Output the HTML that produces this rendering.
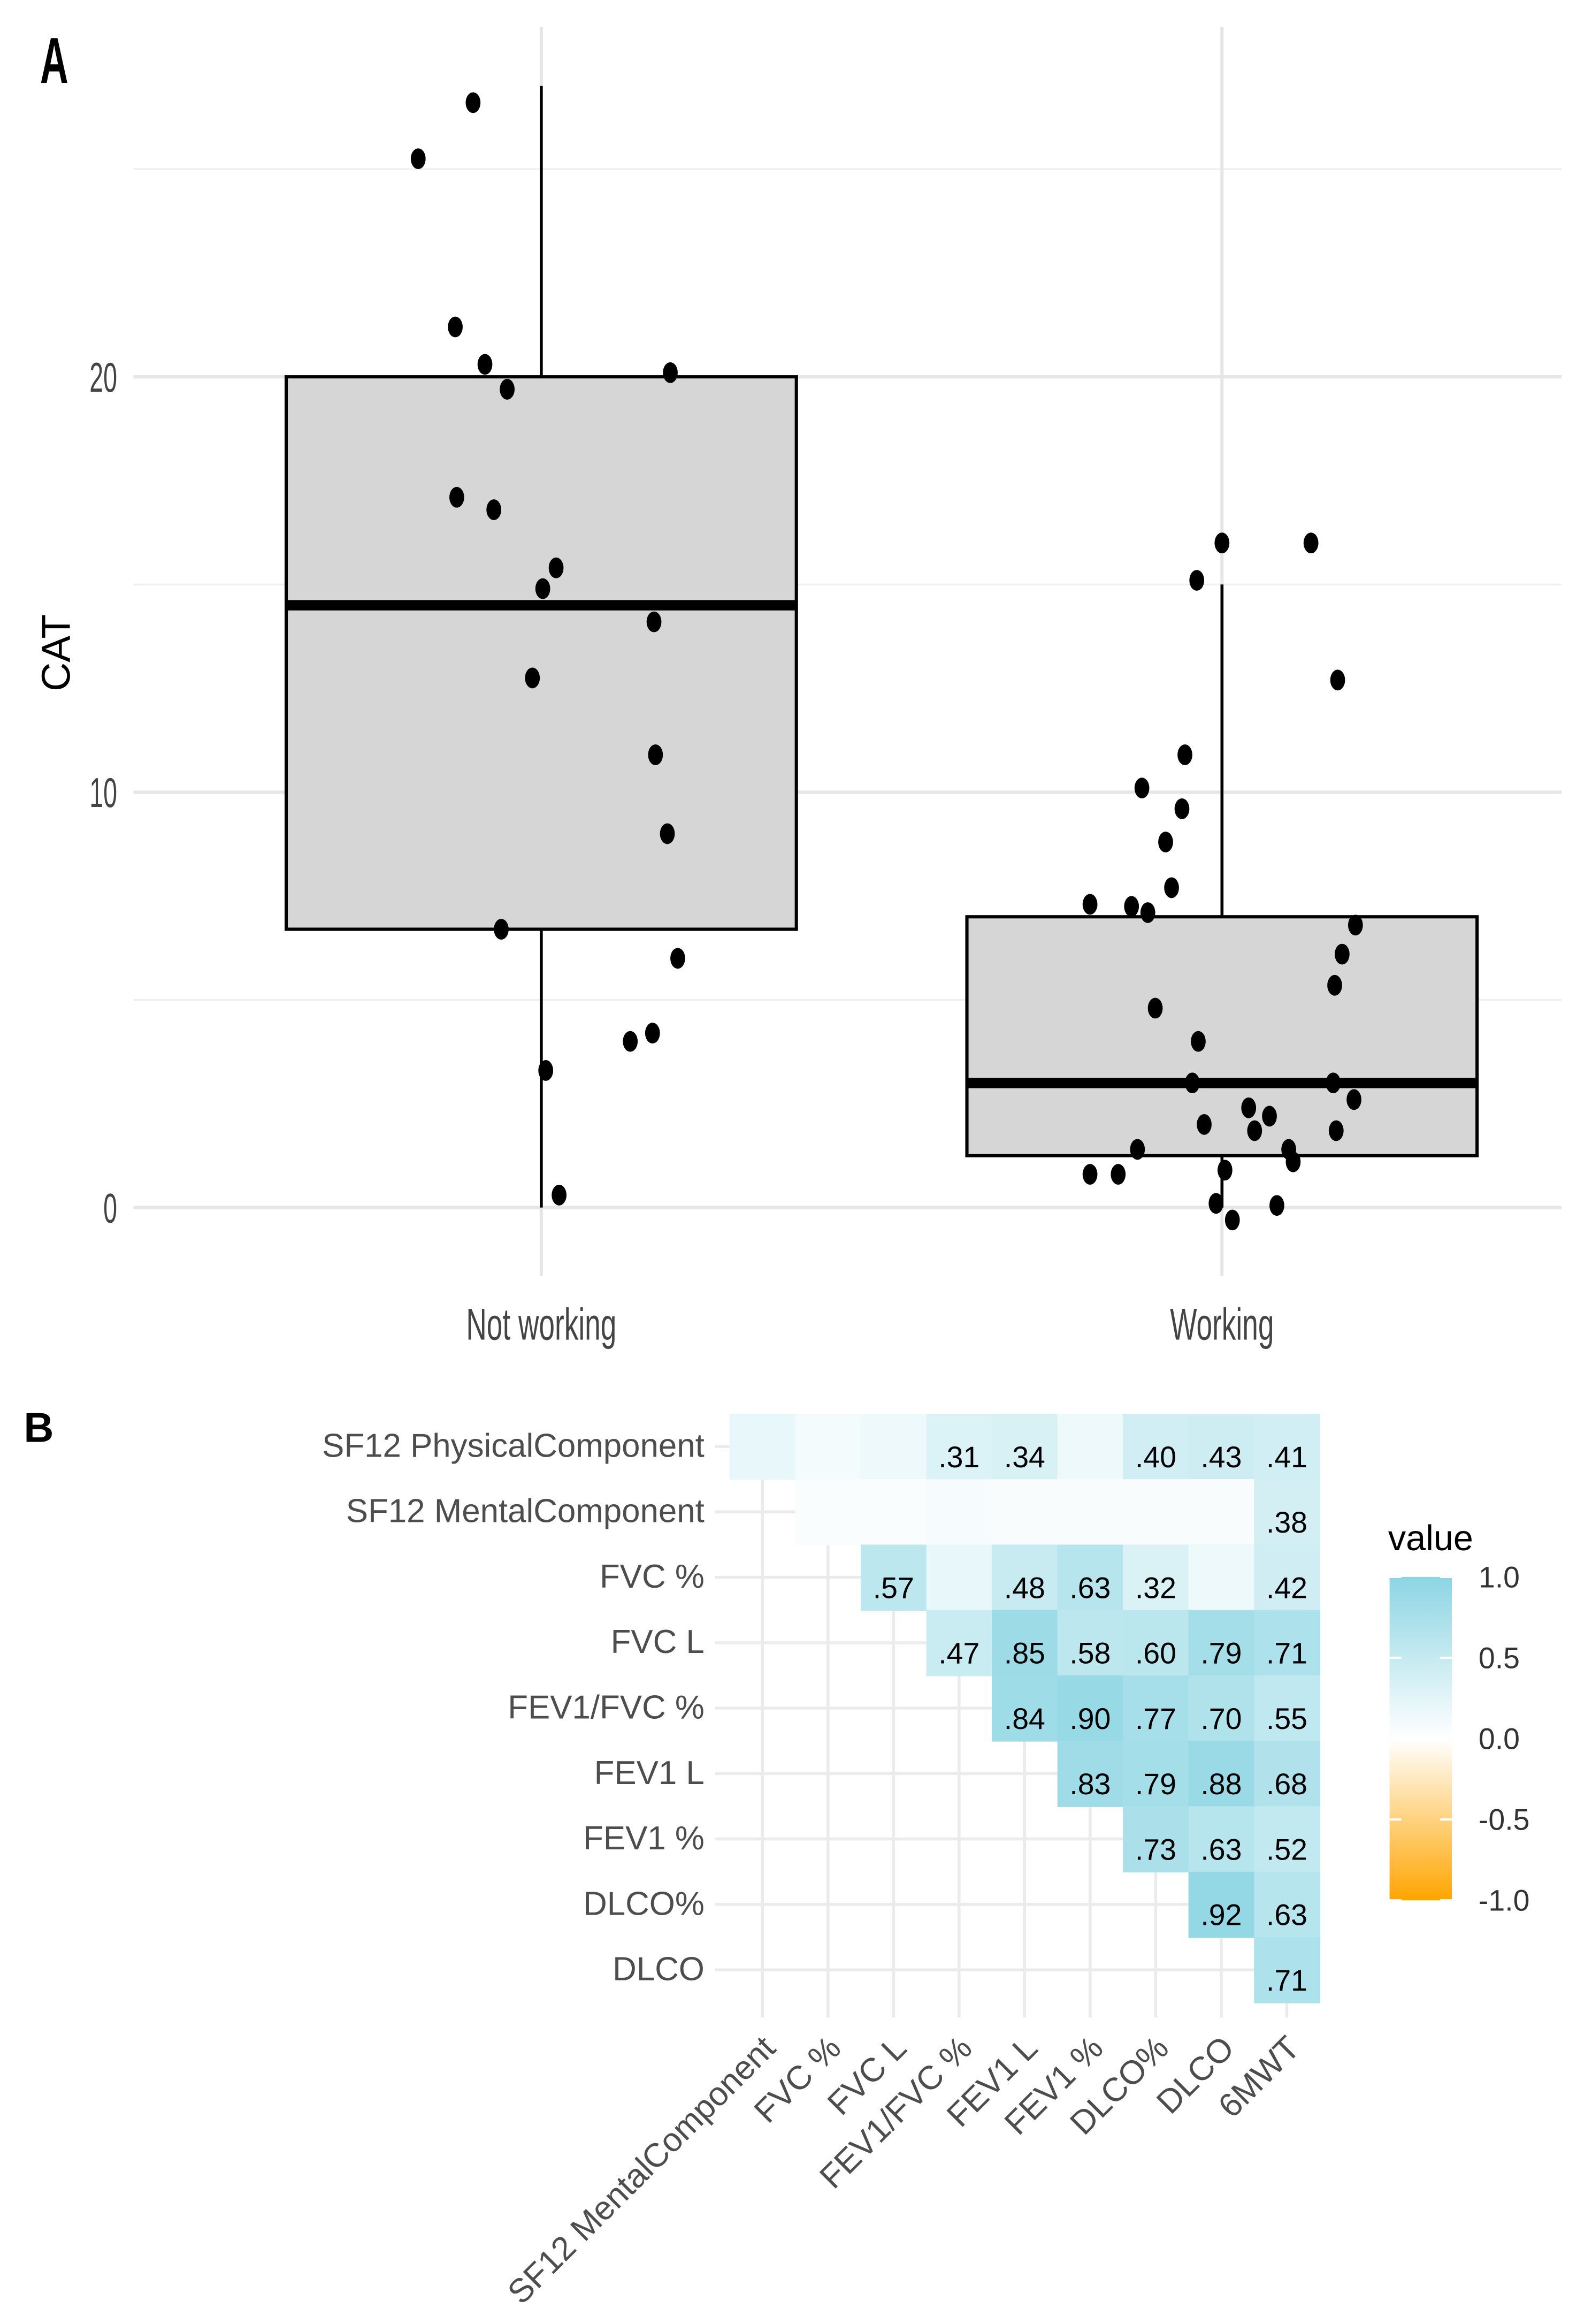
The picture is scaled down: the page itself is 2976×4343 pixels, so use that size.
<!DOCTYPE html>
<html><head><meta charset="utf-8">
<style>
html,body{margin:0;padding:0;background:#fff;}
svg{display:block;}
</style></head>
<body>
<svg id="fig" xmlns="http://www.w3.org/2000/svg" width="2976" height="4343" viewBox="0 0 1073.5 1566.6">
<rect width="1080" height="1580" fill="#fff"/>
<g id="panelA"></g>
<g id="panelB"></g>
</svg>
<script>
// ---------- Panel A data ----------
const groups = ["Not working", "Working"];
const boxQ1 = [6.7, 1.25];
const boxMedian = [14.5, 3.0];
const boxQ3 = [20.0, 7.0];
const whiskLow = [0, 0];
const whiskHigh = [27.0, 15.0];
const yTicks = [0, 10, 20];
const ptsNotWorkingY = [26.6,25.25,21.2,20.3,19.7,20.1,17.1,16.8,15.4,14.9,14.1,12.75,10.9,9.0,6.7,6.0,3.3,4.2,4.0,0.3];
const ptsNotWorkingJ = [-46,-83,-58,-38,-23,87,-57,-32,10,1,76,-6,77,85,-27,92,3,75,60,12];
const ptsWorkingY = [16,16,15.1,12.7,10.9,10.1,9.6,8.8,7.7,7.3,7.25,7.1,6.8,6.1,5.35,4.8,4.0,3.0,3.0,2.6,2.4,2.2,2.0,1.85,1.85,1.4,1.4,1.1,0.9,0.8,0.8,0.1,-0.3,0.05];
const ptsWorkingJ = [0,60,-17,78,-25,-54,-27,-38,-34,-89,-61,-50,90,81,76,-45,-16,-20,75,89,18,32,-12,22,77,45,-57,48,2,-89,-70,-4,7,37];

// ---------- Panel B data ----------
const rowLabels = ["SF12 PhysicalComponent","SF12 MentalComponent","FVC %","FVC L","FEV1/FVC %","FEV1 L","FEV1 %","DLCO%","DLCO"];
const colLabels = ["SF12 MentalComponent","FVC %","FVC L","FEV1/FVC %","FEV1 L","FEV1 %","DLCO%","DLCO","6MWT"];
const corrValues = [
 [0.20,0.10,0.15,0.31,0.34,0.15,0.40,0.43,0.41],
 [null,0.04,0.04,0.08,0.06,0.06,0.06,0.06,0.38],
 [null,null,0.57,0.20,0.48,0.63,0.32,0.15,0.42],
 [null,null,null,0.47,0.85,0.58,0.60,0.79,0.71],
 [null,null,null,null,0.84,0.90,0.77,0.70,0.55],
 [null,null,null,null,null,0.83,0.79,0.88,0.68],
 [null,null,null,null,null,null,0.73,0.63,0.52],
 [null,null,null,null,null,null,null,0.92,0.63],
 [null,null,null,null,null,null,null,null,0.71]
];
const shownLabels = [
 [0,0,0,1,1,0,1,1,1],[0,0,0,0,0,0,0,0,1],[0,0,1,0,1,1,1,0,1],
 [0,0,0,1,1,1,1,1,1],[0,0,0,0,1,1,1,1,1],[0,0,0,0,0,1,1,1,1],
 [0,0,0,0,0,0,1,1,1],[0,0,0,0,0,0,0,1,1],[0,0,0,0,0,0,0,0,1]
];
const legendTicks = [1.0,0.5,0.0,-0.5,-1.0];

const NS="http://www.w3.org/2000/svg";
function mk(tag, attrs, parent, text){
  const e=document.createElementNS(NS,tag);
  for(const k in attrs) e.setAttribute(k,attrs[k]);
  if(text!==undefined) e.textContent=text;
  parent.appendChild(e); return e;
}
const A=document.getElementById('panelA');
const yA = v => 814 - v*28;
const xA = i => 365 + i*459;
const sans='"Liberation Sans",sans-serif';

[5,15,25].forEach(v=>{
  const l=mk('line',{x1:90,x2:1053,y1:yA(v),y2:yA(v),stroke:'#f0f0f0','stroke-width':1.2},A);
  
  
});
yTicks.forEach(v=>{
  const l=mk('line',{x1:90,x2:1053,y1:yA(v),y2:yA(v),stroke:'#e6e6e6','stroke-width':2.2},A);
  
  
  const t=mk('text',{x:0,y:0,transform:'translate(79,'+(yA(v)+10)+') scale(0.6,1)','text-anchor':'end','font-family':sans,'font-size':28,fill:'#444'},A,String(v));
  
  
});
groups.forEach((g,i)=>{
  const l=mk('line',{x1:xA(i),x2:xA(i),y1:18,y2:860,stroke:'#e6e6e6','stroke-width':2.2},A);
  
  
});
groups.forEach((g,i)=>{
  const x=xA(i);
  const w=mk('line',{x1:x,x2:x,y1:yA(whiskHigh[i]),y2:yA(whiskLow[i]),stroke:'#000','stroke-width':2},A);
  
  
  const b=mk('rect',{x:x-172,width:344,y:yA(boxQ3[i]),height:yA(boxQ1[i])-yA(boxQ3[i]),fill:'#d6d6d6',stroke:'#000','stroke-width':2.2},A);
  
  
  const m=mk('line',{x1:x-172,x2:x+172,y1:yA(boxMedian[i]),y2:yA(boxMedian[i]),stroke:'#000','stroke-width':7},A);
  
  
  const t=mk('text',{x:0,y:0,transform:'translate('+x+',903) scale(0.64,1)','text-anchor':'middle','font-family':sans,'font-size':30,fill:'#444'},A,g);
  
  
});
[[ptsNotWorkingY,ptsNotWorkingJ],[ptsWorkingY,ptsWorkingJ]].forEach((p,i)=>{
  p[0].forEach((v,k)=>{
    const c=mk('ellipse',{cx:xA(i)+p[1][k],cy:yA(v),rx:5,ry:7,fill:'#000'},A);
    
    
  });
});
let t=mk('text',{x:0,y:0,transform:'translate(47,440) rotate(-90)','text-anchor':'middle','font-family':sans,'font-size':27,fill:'#000'},A,'CAT');


t=mk('text',{x:0,y:0,transform:'translate(27,56) scale(0.6,1)','font-family':sans,'font-size':44,'font-weight':'bold',fill:'#000'},A,'A');



// ---------- Panel B ----------
const B=document.getElementById('panelB');
const cw=44.2, ch=44.1, x0=492, y0=953;
const cx = j => x0 + cw*j + cw/2;
const cy = i => y0 + ch*i + ch/2;
function colorOf(v){
  const blue=[140,213,227], org=[255,165,0];
  const tgt = v>=0?blue:org, a=Math.min(1,Math.abs(v));
  const c=[0,1,2].map(k=>Math.round(255+(tgt[k]-255)*a));
  return 'rgb('+c.join(',')+')';
}
t=mk('text',{x:16,y:972,'font-family':sans,'font-size':28,'font-weight':'bold',fill:'#000'},B,'B');


rowLabels.forEach((r,i)=>{
  const l=mk('line',{x1:482,x2:890,y1:cy(i),y2:cy(i),stroke:'#ebebeb','stroke-width':2},B);
  
  
  const tx=mk('text',{x:475,y:cy(i)+7,'text-anchor':'end','font-family':sans,'font-size':22.3,fill:'#4d4d4d'},B,r);
  
  
});
colLabels.forEach((c,j)=>{
  const l=mk('line',{x1:cx(j),x2:cx(j),y1:953,y2:1360,stroke:'#ebebeb','stroke-width':2},B);
  
  
  const tx=mk('text',{x:0,y:0,transform:'translate('+(cx(j)+10)+',1382) rotate(-45)','text-anchor':'end','font-family':sans,'font-size':22.5,fill:'#4d4d4d'},B,c);
  
  
});
corrValues.forEach((row,i)=>{
  row.forEach((v,j)=>{
    if(v===null) return;
    const r=mk('rect',{x:x0+cw*j,y:y0+ch*i,width:cw+0.5,height:ch+0.5,fill:colorOf(v)},B);
    
    
    if(shownLabels[i][j]){
      const s=v.toFixed(2).replace(/^0/,'');
      const tx=mk('text',{x:cx(j),y:cy(i)+14,'text-anchor':'middle','font-family':sans,'font-size':20,fill:'#000'},B,s);
      
      
    }
  });
});
const defs=mk('defs',{},B);
const grad=mk('linearGradient',{id:'lg',x1:0,y1:0,x2:0,y2:1},defs);
[[0,colorOf(1)],[0.5,'#fff'],[1,colorOf(-1)]].forEach(s=>mk('stop',{offset:s[0],'stop-color':s[1]},grad));
const ly = v => 1172 - v*109;
const lr=mk('rect',{x:937,y:ly(1),width:42,height:ly(-1)-ly(1),fill:'url(#lg)'},B);


legendTicks.forEach(v=>{
  mk('line',{x1:937,x2:945,y1:ly(v),y2:ly(v),stroke:'#fff','stroke-width':1.5},B);
  mk('line',{x1:971,x2:979,y1:ly(v),y2:ly(v),stroke:'#fff','stroke-width':1.5},B);
  const tx=mk('text',{x:997,y:ly(v)+7,'font-family':sans,'font-size':20,fill:'#333'},B,v.toFixed(1));
  
  
});
t=mk('text',{x:936,y:1045,'font-family':sans,'font-size':24,fill:'#000'},B,'value');


</script>
</body></html>
